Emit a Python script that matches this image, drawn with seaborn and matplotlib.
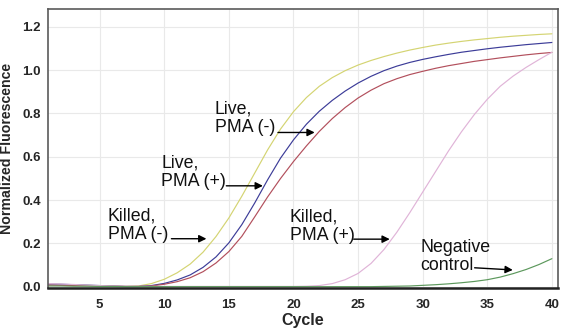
import matplotlib
matplotlib.use("Agg")
import matplotlib.pyplot as plt
from matplotlib import font_manager
import numpy as np
import pandas as pd
import seaborn as sns

cycles = list(range(1, 41))

killed_pma_minus = [0.012, 0.011, 0.009, 0.007, 0.005, 0.003, 0.002, 0.004, 0.015, 0.035,
                    0.065, 0.105, 0.16, 0.232, 0.318, 0.418, 0.525, 0.632, 0.728, 0.808,
                    0.873, 0.925, 0.965, 0.997, 1.023, 1.044, 1.062, 1.078, 1.092, 1.104,
                    1.115, 1.124, 1.132, 1.139, 1.145, 1.151, 1.156, 1.160, 1.164, 1.167]
live_pma_plus = [0.013, 0.012, 0.010, 0.008, 0.006, 0.004, 0.002, 0.002, 0.006, 0.016,
                 0.032, 0.055, 0.09, 0.138, 0.203, 0.287, 0.387, 0.494, 0.594, 0.678,
                 0.75, 0.81, 0.86, 0.903, 0.94, 0.971, 0.997, 1.018, 1.035, 1.049,
                 1.061, 1.072, 1.082, 1.09, 1.098, 1.105, 1.111, 1.117, 1.122, 1.127]
live_pma_minus = [0.008, 0.007, 0.006, 0.005, 0.004, 0.003, 0.002, 0.002, 0.004, 0.012,
                  0.024, 0.042, 0.07, 0.11, 0.163, 0.233, 0.323, 0.415, 0.50, 0.578,
                  0.65, 0.717, 0.776, 0.827, 0.871, 0.907, 0.937, 0.96, 0.979, 0.994,
                  1.008, 1.02, 1.03, 1.04, 1.048, 1.056, 1.063, 1.07, 1.076, 1.081]
killed_pma_plus = [0.015, 0.013, 0.011, 0.008, 0.006, 0.004, 0.002, 0.002, 0.002, 0.002,
                   0.002, 0.002, 0.002, 0.002, 0.002, 0.002, 0.002, 0.002, 0.002, 0.002,
                   0.003, 0.006, 0.015, 0.033, 0.062, 0.108, 0.172, 0.252, 0.342, 0.437,
                   0.532, 0.627, 0.715, 0.795, 0.865, 0.925, 0.972, 1.012, 1.048, 1.082]
negative_control = [0.004, 0.004, 0.003, 0.003, 0.002, 0.002, 0.001, 0.001, 0.001, 0.001,
                    0.001, 0.001, 0.001, 0.001, 0.001, 0.001, 0.001, 0.001, 0.001, 0.001,
                    0.001, 0.001, 0.001, 0.001, 0.001, 0.001, 0.002, 0.003, 0.004, 0.007,
                    0.010, 0.014, 0.019, 0.025, 0.033, 0.045, 0.061, 0.080, 0.103, 0.13]

series_names = ["Killed, PMA (-)", "Live, PMA (+)", "Live, PMA (-)", "Killed, PMA (+)", "Negative control"]
series_values = [killed_pma_minus, live_pma_plus, live_pma_minus, killed_pma_plus, negative_control]
colors = ["#d4d472", "#3c3c98", "#b24f5c", "#e0b4d8", "#5c985c"]

x_ticks = [5, 10, 15, 20, 25, 30, 35, 40]
y_ticks = [0.0, 0.2, 0.4, 0.6, 0.8, 1.0, 1.2]

df = pd.DataFrame({
    "Cycle": np.tile(cycles, len(series_names)),
    "Value": np.concatenate(series_values),
    "Series": np.repeat(series_names, len(cycles)),
})

sns.set_style("white")
available = {f.name for f in font_manager.fontManager.ttflist}
if "Liberation Sans Narrow" in available:
    fam = ["Liberation Sans Narrow", "DejaVu Sans"]
    ann_size = 14.5
    tick_size = 11
    lab_size = 13
    ylab_size = 13
else:
    fam = ["Liberation Sans", "DejaVu Sans"]
    ann_size = 12.8
    tick_size = 9.5
    lab_size = 11.5
    ylab_size = 10.2
plt.rcParams["font.family"] = fam

fig = plt.figure(figsize=(5.71, 3.36), dpi=100)
ax = fig.add_axes([0.0841, 0.1443, 0.8926, 0.828])

sns.lineplot(data=df, x="Cycle", y="Value", hue="Series", palette=dict(zip(series_names, colors)),
             linewidth=0.85, legend=False, ax=ax)

ax.set_xlim(1, 40.45)
ax.set_ylim(-0.003, 1.28)
ax.set_xticks(x_ticks)
ax.set_yticks(y_ticks)
ax.set_xticklabels([str(t) for t in x_ticks], fontweight="bold", fontsize=tick_size)
ax.set_yticklabels([f"{t:.1f}" for t in y_ticks], fontweight="bold", fontsize=tick_size)
ax.tick_params(axis="both", length=0, pad=5)
ax.tick_params(axis="x", pad=8)
ax.grid(True, color="#e9e9e9", linewidth=0.8)
ax.set_axisbelow(True)
for s in ax.spines.values():
    s.set_color("#5a5a5a")
    s.set_linewidth(1.2)
ax.spines["bottom"].set_color("#222222")
ax.spines["bottom"].set_linewidth(1.8)

ax.set_xlabel("Cycle", fontweight="bold", fontsize=lab_size, labelpad=2)
ax.set_ylabel("Normalized Fluorescence", fontweight="bold", fontsize=ylab_size, labelpad=6)

ann = [
    ("Killed,\nPMA (-)", 5.62, 0.284, (10.55, 0.222), (13.26, 0.222)),
    ("Live,\nPMA (+)", 9.78, 0.528, (14.8, 0.466), (17.63, 0.466)),
    ("Live,\nPMA (-)", 13.9, 0.778, (18.8, 0.712), (21.64, 0.712)),
    ("Killed,\nPMA (+)", 19.7, 0.28, (24.66, 0.22), (27.45, 0.22)),
    ("Negative\ncontrol", 29.82, 0.14, (34.02, 0.088), (36.97, 0.078)),
]
for txt, tx, ty, a0, a1 in ann:
    ax.text(tx, ty, txt, ha="left", va="center", fontsize=ann_size, color="#111111",
            linespacing=1.12)
    ax.annotate("", xy=a1, xytext=a0,
                arrowprops=dict(arrowstyle="-|>", color="black", lw=1.0, mutation_scale=11,
                                shrinkA=0, shrinkB=0))

fig.savefig("out.png", dpi=100)
